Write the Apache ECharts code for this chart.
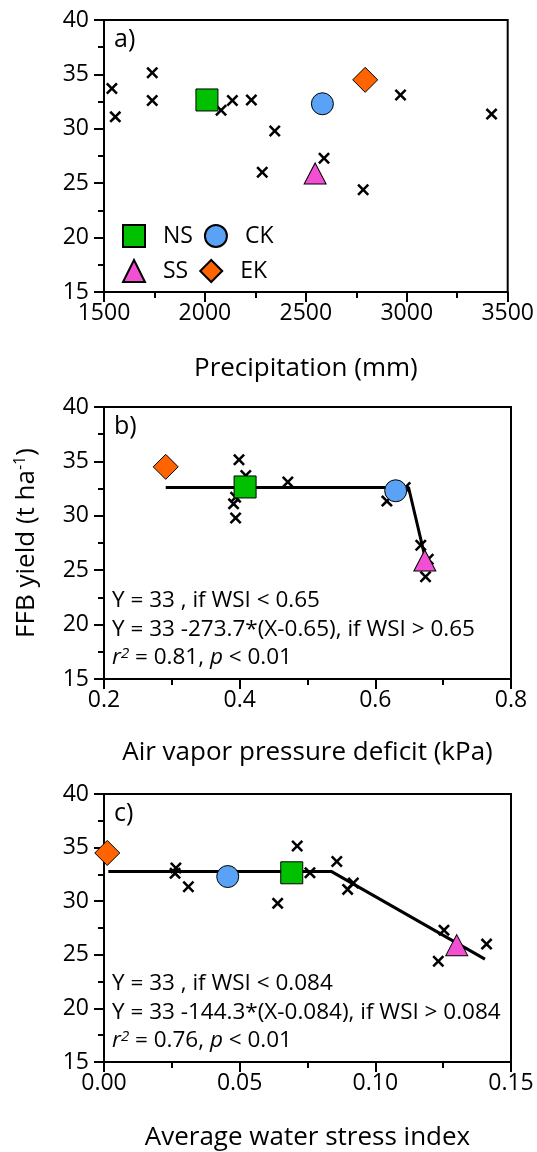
<!DOCTYPE html>
<html>
<head>
<meta charset="utf-8">
<script src="https://cdn.jsdelivr.net/npm/echarts@6/dist/echarts.min.js"></script>
<style>
html, body { margin: 0; padding: 0; background: #fff; }
#chart { width: 537px; height: 1152px; }
</style>
</head>
<body>
<div id="chart"></div>
<script>
// other sites: yield (t/ha) and their x value in each panel
var siteYield  = [33.7, 31.1, 35.15, 32.6, 31.7, 32.6, 32.65, 29.8, 26.0, 27.3, 24.4, 33.1, 31.35];
var sitePrecip = [1539, 1556, 1739, 1739, 2080, 2136, 2230, 2346, 2284, 2590, 2784, 2969, 3420];
var siteVpd    = [0.409, 0.391, 0.399, 0.405, 0.394, 0.644, 0.410, 0.394, 0.678, 0.667, 0.674, 0.471, 0.617];
var siteWsi    = [0.0858, 0.0898, 0.0712, 0.0262, 0.0919, 0.0690, 0.0759, 0.0640, 0.1410, 0.1253, 0.1232, 0.0265, 0.0311];

// highlighted regions
var regionNames  = ['NS', 'CK', 'SS', 'EK'];
var regionYield  = [32.65, 32.3, 25.9, 34.5];
var regionPrecip = [2010, 2582, 2546, 2794];
var regionVpd    = [0.408, 0.630, 0.673, 0.291];
var regionWsi    = [0.0692, 0.0456, 0.130, 0.0012];

// segmented regression lines (panels b and c)
var vpdFitX = [0.291, 0.649, 0.674];
var vpdFitY = [32.6, 32.6, 26.0];
var wsiFitX = [0.0016, 0.0839, 0.1404];
var wsiFitY = [32.76, 32.76, 24.6];

// tick labels
var yieldTicks  = [15, 20, 25, 30, 35, 40];
var precipTicks = [1500, 2000, 2500, 3000, 3500];
var vpdTicks    = [0.2, 0.4, 0.6, 0.8];
var wsiTicks    = [0.00, 0.05, 0.10, 0.15];

var FONT = 'Open Sans';
var gridTops = [20, 407, 794];
var crossPath = 'path://M0,1.8L1.8,0L6,4.2L10.2,0L12,1.8L7.8,6L12,10.2L10.2,12L6,7.8L1.8,12L0,10.2L4.2,6Z';
var regionSymbols = ['rect', 'circle', 'triangle', 'diamond'];
var regionSizes = [22, 22, [22, 21], 25];
var regionColors = ['#00c000', '#5aa2f5', '#f24fd2', '#ff6400'];

function zipXY(xs, ys) {
    return xs.map(function (x, i) { return [x, ys[i]]; });
}

function xAxisFor(idx, ticks, decimals, name, gap) {
    return {
        type: 'value', gridIndex: idx,
        min: ticks[0], max: ticks[ticks.length - 1], interval: ticks[1] - ticks[0],
        name: name, nameLocation: 'middle', nameGap: gap,
        nameTextStyle: { fontFamily: FONT, fontSize: 26, color: '#000' },
        axisLine: { onZero: false, lineStyle: { color: '#000', width: 2 } },
        axisTick: { length: 10, lineStyle: { color: '#000', width: 2 } },
        minorTick: { show: true, splitNumber: 2, length: 6, lineStyle: { color: '#000', width: 2 } },
        splitLine: { show: false },
        axisLabel: {
            fontFamily: FONT, fontSize: 23, color: '#000', margin: 10,
            formatter: function (v) { return v.toFixed(decimals); }
        }
    };
}

function yAxisFor(idx, name) {
    return {
        type: 'value', gridIndex: idx,
        min: yieldTicks[0], max: yieldTicks[yieldTicks.length - 1], interval: yieldTicks[1] - yieldTicks[0],
        name: name, nameLocation: 'middle', nameGap: 62, nameRotate: 90,
        nameTextStyle: {
            fontFamily: FONT, fontSize: 26, color: '#000',
            rich: {
                n: { fontFamily: FONT, fontSize: 26, color: '#000', lineHeight: 30 },
                s: { fontFamily: FONT, fontSize: 16, color: '#000', lineHeight: 14, verticalAlign: 'top' }
            }
        },
        axisLine: { onZero: false, lineStyle: { color: '#000', width: 2 } },
        axisTick: { length: 10, lineStyle: { color: '#000', width: 2 } },
        minorTick: { show: true, splitNumber: 2, length: 6, lineStyle: { color: '#000', width: 2 } },
        splitLine: { show: false },
        axisLabel: { fontFamily: FONT, fontSize: 23, color: '#000', margin: 15 }
    };
}

var panelX = [sitePrecip, siteVpd, siteWsi];
var regionX = [regionPrecip, regionVpd, regionWsi];

var series = [];
// fitted lines first so markers sit on top
series.push({
    type: 'line', xAxisIndex: 1, yAxisIndex: 1, data: zipXY(vpdFitX, vpdFitY),
    symbol: 'none', lineStyle: { color: '#000', width: 3 }, z: 1, silent: true
});
series.push({
    type: 'line', xAxisIndex: 2, yAxisIndex: 2, data: zipXY(wsiFitX, wsiFitY),
    symbol: 'none', lineStyle: { color: '#000', width: 3 }, z: 1, silent: true
});
for (var p = 0; p < 3; p++) {
    series.push({
        name: 'sites', type: 'scatter', xAxisIndex: p, yAxisIndex: p,
        data: zipXY(panelX[p], siteYield),
        symbol: crossPath, symbolSize: 12,
        itemStyle: { color: '#000', opacity: 1 }, z: 2
    });
    for (var r = 0; r < regionNames.length; r++) {
        series.push({
            name: regionNames[r], type: 'scatter', xAxisIndex: p, yAxisIndex: p,
            data: [[regionX[p][r], regionYield[r]]],
            symbol: regionSymbols[r], symbolSize: regionSizes[r],
            itemStyle: { color: regionColors[r], borderColor: '#000', borderWidth: 1, opacity: 1 },
            z: 3
        });
    }
}

function eqText(x, y, lines) {
    return lines.map(function (t, i) {
        return {
            type: 'text', x: x, y: y[i],
            style: {
                text: t, fontFamily: FONT, fontSize: 22.5, fill: '#000', verticalAlign: 'middle',
                rich: {
                    t: { fontFamily: FONT, fontSize: 22.5, fill: '#000' },
                    i: { fontFamily: FONT, fontSize: 22.5, fontStyle: 'italic', fill: '#000' },
                    sup: { fontFamily: FONT, fontSize: 15, fontStyle: 'italic', fill: '#000', verticalAlign: 'top', lineHeight: 12 }
                }
            }
        };
    });
}

var graphics = [];
['a)', 'b)', 'c)'].forEach(function (t, i) {
    graphics.push({
        type: 'text', x: 114, y: gridTops[i] + 7,
        style: { text: t, fontFamily: FONT, fontSize: 25, fill: '#000', verticalAlign: 'top' }
    });
});
graphics = graphics.concat(eqText(112, [601, 630, 658], [
    'Y = 33 , if WSI < 0.65',
    'Y = 33 -273.7*(X-0.65), if WSI > 0.65',
    '{i|r}{sup|2}{t| = 0.81, }{i|p}{t| < 0.01}'
]));
graphics = graphics.concat(eqText(112, [984, 1013, 1041], [
    'Y = 33 , if WSI < 0.084',
    'Y = 33 -144.3*(X-0.084), if WSI > 0.084',
    '{i|r}{sup|2}{t| = 0.76, }{i|p}{t| < 0.01}'
]));

var chart = echarts.init(document.getElementById('chart'), null, { renderer: 'canvas' });
var option = {
    backgroundColor: '#fff',
    animation: false,
    grid: gridTops.map(function (t) {
        return { left: 104, width: 407, top: t, height: 272, show: true, borderColor: '#000', borderWidth: 2 };
    }),
    xAxis: [
        xAxisFor(0, precipTicks, 0, 'Precipitation (mm)', 64),
        xAxisFor(1, vpdTicks, 1, 'Air vapor pressure deficit (kPa)', 61),
        xAxisFor(2, wsiTicks, 2, 'Average water stress index', 63)
    ],
    yAxis: [
        yAxisFor(0, ''),
        yAxisFor(1, '{n|FFB yield (t ha}{s|-1}{n|)}'),
        yAxisFor(2, '')
    ],
    legend: {
        data: regionNames.slice(),
        left: 117, top: 219, width: 160,
        itemWidth: 22, itemHeight: 22, itemGap: 11,
        selectedMode: false,
        textStyle: { fontFamily: FONT, fontSize: 23, color: '#000', width: 27, padding: [0, 0, 0, 13] }
    },
    graphic: graphics,
    series: series
};
chart.setOption(option);
</script>
</body>
</html>
